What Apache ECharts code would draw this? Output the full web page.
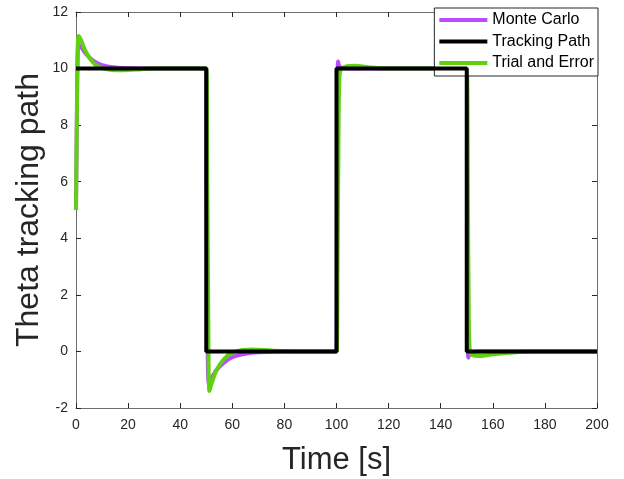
<!DOCTYPE html>
<html><head><meta charset="utf-8">
<script src="https://cdn.jsdelivr.net/npm/echarts@6/dist/echarts.min.js"></script>
<style>html,body{margin:0;padding:0;background:#fff}#c{width:624px;height:479px}</style>
</head><body><div id="c"></div>
<script>
const seriesNames = ['Monte Carlo', 'Tracking Path', 'Trial and Error'];
const xTicks = [0, 20, 40, 60, 80, 100, 120, 140, 160, 180, 200];
const yTicks = [-2, 0, 2, 4, 6, 8, 10, 12];
const trackingPath = [[0,10],[50,10],[50,0],[100,0],[100,10],[150,10],[150,0],[200,0]];
const monteCarlo = [[0,5],[0.3,8],[0.6,10.3],[1,10.85],[2,10.75],[4,10.5],[7,10.25],[10,10.12],[15,10.04],[20,10.01],[30,10],[50,10],
  [50.2,5],[50.5,0.5],[51,-1.15],[52,-0.95],[54,-0.65],[57,-0.38],[60,-0.2],[65,-0.08],[70,-0.03],[80,0],[100,0],
  [100.2,5],[100.4,9.5],[100.6,10.25],[101,10.1],[102,10.02],[105,10],[150,10],
  [150.2,5],[150.4,0.5],[150.6,-0.22],[151,-0.1],[152,-0.03],[155,0],[200,0]];
const trialError = [[0,5],[0.3,8],[0.6,10.5],[1,11.15],[2,11.0],[3,10.75],[5,10.4],[8,10.1],[12,9.97],[16,9.94],[20,9.95],[25,9.98],[30,10],[50,10],
  [50.4,6],[50.8,1],[51.2,-1.4],[52,-1.15],[54,-0.65],[57,-0.25],[60,-0.05],[64,0.05],[68,0.07],[75,0.03],[85,0],[100,0],
  [100.4,3],[100.8,8],[101.2,9.8],[102,10.0],[104,10.08],[107,10.1],[112,10.05],[120,10],[150,10],
  [150.4,6],[150.8,1],[151.2,0],[152,-0.12],[155,-0.16],[160,-0.1],[166,-0.05],[175,0],[200,0]];

const colors = ['#b84cff', '#000000', '#5fd10f'];
const chart = echarts.init(document.getElementById('c'));
const font = 'Liberation Sans, Arial, sans-serif';
const axisCol = '#262626';
const lineCol = '#6e6e6e';
const frameAxis = {
  axisLine: {onZero: false, lineStyle: {color: lineCol}},
  axisTick: {inside: true, length: 5, lineStyle: {color: axisCol}},
  splitLine: {show: false}
};
chart.setOption({
  animation: false,
  grid: {left: 76, right: 27, top: 12, bottom: 71, outerBoundsMode: 'none', containLabel: false},
  legend: {
    data: seriesNames.map((n,i)=>({name:n, icon:'rect', itemStyle:{color:colors[i]}})),
    orient: 'vertical', right: 26, top: 8,
    itemWidth: 48, itemHeight: 4, itemGap: 5.5,
    padding: [4, 4, 5, 5],
    backgroundColor: '#fff', borderColor: axisCol, borderWidth: 1,
    textStyle: {fontFamily: font, fontSize: 16, lineHeight: 16, color: '#000', padding:[0,0,0,0]}
  },
  xAxis: [Object.assign({
    type: 'value', min: 0, max: 200, interval: 20,
    name: 'Time [s]', nameLocation: 'middle', nameGap: 37,
    nameTextStyle: {fontFamily: font, fontSize: 31, color: axisCol},
    axisLabel: {fontFamily: font, fontSize: 14, color: axisCol, margin: 10}
  }, frameAxis), Object.assign({
    type: 'value', min: 0, max: 200, interval: 20, position: 'top',
    axisLabel: {show: false}
  }, frameAxis)],
  yAxis: [Object.assign({
    type: 'value', min: -2, max: 12, interval: 2,
    name: 'Theta tracking path', nameLocation: 'middle', nameGap: 31, nameMoveOverlap: false,
    nameTextStyle: {fontFamily: font, fontSize: 32, color: axisCol},
    axisLabel: {fontFamily: font, fontSize: 14, color: axisCol, margin: 8}
  }, frameAxis, {axisLine: {show: true, onZero: false, lineStyle: {color: lineCol}},
                 axisTick: {show: true, inside: true, length: 5, lineStyle: {color: axisCol}}}),
  Object.assign({
    type: 'value', min: -2, max: 12, interval: 2, position: 'right',
    axisLabel: {show: false}
  }, frameAxis, {axisLine: {show: true, onZero: false, lineStyle: {color: lineCol}},
                 axisTick: {show: true, inside: true, length: 5, lineStyle: {color: axisCol}}})],
  series: [
    {name: seriesNames[0], type: 'line', data: monteCarlo, showSymbol: false, smooth: 0.3, z: 2,
     lineStyle: {color: colors[0], width: 4}, itemStyle: {color: colors[0]}},
    {name: seriesNames[2], type: 'line', data: trialError, showSymbol: false, smooth: 0.3, z: 3,
     lineStyle: {color: colors[2], width: 4}, itemStyle: {color: colors[2]}},
    {name: seriesNames[1], type: 'line', data: trackingPath, showSymbol: false, z: 4,
     lineStyle: {color: colors[1], width: 4}, itemStyle: {color: colors[1]}}
  ]
});
</script></body></html>
